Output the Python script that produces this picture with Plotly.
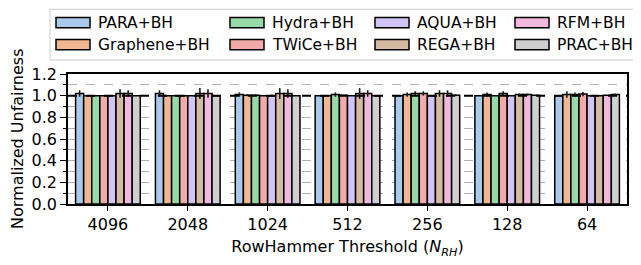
import colorsys
import plotly.graph_objects as go

categories = ["4096", "2048", "1024", "512", "256", "128", "64"]
series_names = ["PARA+BH", "Graphene+BH", "Hydra+BH", "TWiCe+BH",
                "AQUA+BH", "REGA+BH", "RFM+BH", "PRAC+BH"]

para     = [1.02, 1.02, 1.01, 1.00, 1.00, 1.00, 1.00]
graphene = [1.00, 1.00, 1.005, 1.00, 1.01, 1.01, 1.01]
hydra    = [1.00, 1.00, 1.005, 1.01, 1.02, 1.00, 1.01]
twice    = [1.00, 1.00, 1.00, 1.005, 1.02, 1.02, 1.015]
aqua     = [1.00, 1.00, 1.00, 1.00, 1.00, 1.00, 1.00]
rega     = [1.02, 1.02, 1.02, 1.02, 1.02, 1.01, 1.00]
rfm      = [1.02, 1.02, 1.02, 1.02, 1.02, 1.01, 1.005]
prac     = [1.00, 1.00, 1.00, 1.00, 1.005, 1.005, 1.01]

para_err     = [0.03, 0.03, 0.02, 0.00, 0.00, 0.00, 0.00]
graphene_err = [0.00, 0.00, 0.01, 0.00, 0.02, 0.02, 0.03]
hydra_err    = [0.00, 0.01, 0.01, 0.02, 0.02, 0.00, 0.02]
twice_err    = [0.00, 0.00, 0.00, 0.00, 0.02, 0.02, 0.02]
aqua_err     = [0.00, 0.00, 0.01, 0.00, 0.00, 0.00, 0.00]
rega_err     = [0.04, 0.05, 0.05, 0.05, 0.03, 0.01, 0.00]
rfm_err      = [0.03, 0.04, 0.04, 0.03, 0.03, 0.01, 0.00]
prac_err     = [0.00, 0.00, 0.00, 0.00, 0.01, 0.00, 0.01]

values = [para, graphene, hydra, twice, aqua, rega, rfm, prac]
errors = [para_err, graphene_err, hydra_err, twice_err, aqua_err, rega_err, rfm_err, prac_err]

pastel = ["#a1c9f4", "#ffb482", "#8de5a1", "#ff9f9b",
          "#d0bbff", "#debb9b", "#fab0e4", "#cfcfcf"]


def desat(hexc, prop=0.75):
    r, g, b = (int(hexc[i:i + 2], 16) / 255 for i in (1, 3, 5))
    h, l, s = colorsys.rgb_to_hls(r, g, b)
    r, g, b = colorsys.hls_to_rgb(h, l, s * prop)
    return "#%02x%02x%02x" % tuple(round(v * 255) for v in (r, g, b))


colors = [desat(c) for c in pastel]

FONT = "DejaVu Sans"
OFF = 8  # page body margin offset
FW, FH = 641 - OFF, 265 - OFF

fig = go.Figure()
for name, vals, errs, col in zip(series_names, values, errors, colors):
    fig.add_trace(go.Bar(
        x=categories, y=vals, name=name,
        marker=dict(color=col, line=dict(color="black", width=1.5)),
        error_y=dict(type="data", array=errs, visible=True,
                     color="#1a1a1a", thickness=1.6, width=0),
        showlegend=False,
    ))

# plot area in (screen) pixels
L, R, T, B = 68, 627, 74, 213
W, H = R - L, B - T


def px(x):
    return (x - L) / W


def py(y):
    return (B - y) / H


shapes = []
annotations = []
# legend frame
shapes.append(dict(type="rect", xref="paper", yref="paper",
                   x0=px(50), x1=px(650), y0=py(59), y1=py(5),
                   line=dict(color="#d6d6d6", width=1.2), fillcolor="white",
                   layer="above"))
col_text_x = [98, 272, 417, 557]
row_y = [19, 42.5]
for i, (name, col) in enumerate(zip(series_names, colors)):
    c = i // 2
    r = i % 2
    tx = col_text_x[c]
    yc = row_y[r]
    shapes.append(dict(type="rect", xref="paper", yref="paper",
                       x0=px(tx - 42), x1=px(tx - 8),
                       y0=py(yc + 5.5), y1=py(yc - 5.5),
                       line=dict(color="black", width=1.5), fillcolor=col,
                       layer="above"))
    annotations.append(dict(xref="paper", yref="paper", x=px(tx - 2), y=py(yc),
                            text=name, showarrow=False, xanchor="left",
                            yanchor="middle",
                            font=dict(family=FONT, size=15.5, color="black")))

# y-axis title
annotations.append(dict(xref="paper", yref="paper", x=px(17), y=py((T + B) / 2),
                        text="Normalized Unfairness", textangle=-90, showarrow=False,
                        xanchor="center", yanchor="middle", borderpad=0,
                        font=dict(family=FONT, size=16, color="black")))

# reference line at 1.0
shapes.append(dict(type="line", xref="paper", yref="y", x0=0, x1=1, y0=1.0, y1=1.0,
                   line=dict(color="black", width=2, dash="dash"), layer="above"))

fig.update_layout(
    width=FW, height=FH,
    margin=dict(l=L - OFF, r=641 - R, t=T - OFF, b=265 - B, pad=0),
    paper_bgcolor="white", plot_bgcolor="white",
    barmode="group", bargap=0.19, bargroupgap=0,
    font=dict(family=FONT, size=16, color="black"),
    shapes=shapes, annotations=annotations,
    showlegend=False,
)
fig.update_xaxes(
    type="category", range=[-0.5, 6.5],
    showline=True, linecolor="black", linewidth=1.5, mirror=True,
    ticks="outside", ticklen=5, tickwidth=1.2, tickcolor="black",
    tickfont=dict(family=FONT, size=16),
    title=dict(text="RowHammer Threshold (<i>N</i><sub><i>RH</i></sub>)",
               font=dict(family=FONT, size=16), standoff=8),
    showgrid=False,
)
fig.update_yaxes(
    range=[0, 1.2],
    tickvals=[0, 0.2, 0.4, 0.6, 0.8, 1.0, 1.2],
    ticktext=["0.0", "0.2", "0.4", "0.6", "0.8", "1.0", "1.2"],
    showline=True, linecolor="black", linewidth=1.5, mirror=True,
    ticks="outside", ticklen=6, tickwidth=1.2, tickcolor="black",
    tickfont=dict(family=FONT, size=16),
    showgrid=True, gridcolor="#b0b0b0", gridwidth=1, griddash="dash",
    minor=dict(dtick=0.1, tick0=0, ticks="outside", ticklen=3, tickcolor="black",
               showgrid=True, gridcolor="#b0b0b0", gridwidth=1, griddash="dash"),
    zeroline=False,
)

fig.write_html("out.html")
